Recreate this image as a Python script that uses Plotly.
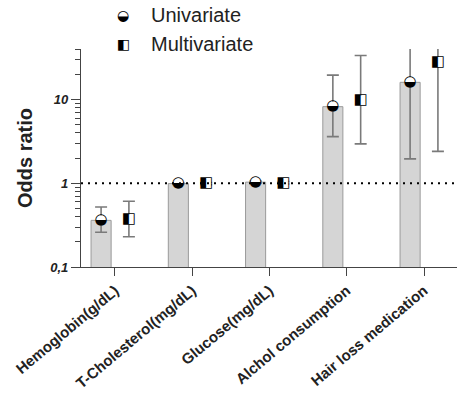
import numpy as np
import plotly.graph_objects as go

categories = ["Hemoglobin(g/dL)", "T-Cholesterol(mg/dL)", "Glucose(mg/dL)",
              "Alchol consumption", "Hair loss medication"]
uni_or = [0.36, 0.99, 1.03, 8.2, 16.0]
uni_lo = [0.26, 0.97, 1.00, 3.6, 1.95]
uni_hi = [0.52, 1.01, 1.06, 19.5, 60.0]
multi_or = [0.37, 0.99, 1.01, 9.7, 28.0]
multi_lo = [0.23, 0.96, 0.98, 2.95, 2.4]
multi_hi = [0.61, 1.02, 1.05, 33.5, 60.0]
ref_value = 1
y_ticks = [0.1, 1, 10]
y_ticktext = ["0,1", "1", "10"]
series_names = ["Univariate", "Multivariate"]
series_glyphs = ["\u25D2", "\u25E7"]

idx = np.arange(len(categories))
off = 0.18
xu = idx - off
xm = idx + off

def errs(v, lo, hi):
    v, lo, hi = map(np.asarray, (v, lo, hi))
    return hi - v, v - lo

ebar = dict(color="#7a7a7a", thickness=1.6, width=6)

fig = go.Figure()
fig.add_trace(go.Bar(x=xu, y=uni_or, width=0.26,
                     marker=dict(color="#d5d5d5", line=dict(color="#9a9a9a", width=1)),
                     hoverinfo="skip", showlegend=False))
up, dn = errs(uni_or, uni_lo, uni_hi)
fig.add_trace(go.Scatter(x=xu, y=uni_or, mode="markers",
                         marker=dict(symbol="circle", size=10, color="white"),
                         error_y=dict(type="data", symmetric=False, array=up, arrayminus=dn, **ebar),
                         showlegend=False))
up, dn = errs(multi_or, multi_lo, multi_hi)
fig.add_trace(go.Scatter(x=xm, y=multi_or, mode="markers",
                         marker=dict(symbol="square", size=10, color="white"),
                         error_y=dict(type="data", symmetric=False, array=up, arrayminus=dn, **ebar),
                         showlegend=False))
# dotted reference line at OR = 1
fig.add_trace(go.Scatter(x=[-0.44, 4.427], y=[ref_value, ref_value], mode="lines",
                         line=dict(color="black", width=2, dash="2px,5px"),
                         hoverinfo="skip", showlegend=False))
fig.add_trace(go.Scatter(x=xu, y=uni_or, mode="text", text=[series_glyphs[0]] * len(xu),
                         textposition="middle center",
                         textfont=dict(family="DejaVu Sans", size=15, color="black"),
                         hoverinfo="skip", showlegend=False))
fig.add_trace(go.Scatter(x=xm, y=multi_or, mode="text", text=[series_glyphs[1]] * len(xm),
                         textposition="middle center",
                         textfont=dict(family="DejaVu Sans", size=15, color="black"),
                         hoverinfo="skip", showlegend=False))

W, H = 457, 399
L, R, T, B = 81, 0, 49, 132
PW, PH = W - L - R, H - T - B

# legend made of annotations (pixel positions -> paper coords)
for i, (g, name) in enumerate(zip(series_glyphs, series_names)):
    yy = 15 + 29 * i
    fig.add_annotation(x=(123 - L) / PW, y=(H - yy - B) / PH, xref="paper", yref="paper", text=g,
                       showarrow=False, xanchor="center", yanchor="middle",
                       font=dict(family="DejaVu Sans", size=14, color="black"))
    fig.add_annotation(x=(149 - L) / PW, y=(H - yy - B) / PH, xref="paper", yref="paper", text=name,
                       showarrow=False, xanchor="left", yanchor="middle",
                       font=dict(family="Liberation Sans", size=20, color="#222"))

fig.update_layout(
    width=W, height=H, margin=dict(l=L, r=R, t=T, b=B, pad=0, autoexpand=False),
    plot_bgcolor="white", paper_bgcolor="white",
    separators=",.",
    font=dict(family="Liberation Sans", color="#222"),
    xaxis=dict(range=[-0.44, 4.427], tickmode="array", tickvals=idx, ticktext=categories,
               tickangle=-40, ticks="outside", ticklen=8, tickcolor="#444", tickwidth=1.2,
               showline=True, linecolor="#444", linewidth=1.2, showgrid=False, zeroline=False,
               automargin=False,
               tickfont=dict(family="Liberation Sans", size=15, weight="bold", color="#222")),
    yaxis=dict(type="log", range=[-1, np.log10(40)], tickmode="array", tickvals=y_ticks,
               ticktext=y_ticktext, ticks="outside", ticklen=9, tickcolor="#444", tickwidth=1.2,
               minor=dict(ticks="outside", ticklen=5, dtick="D1", tickcolor="#444", tickwidth=1),
               showline=True, linecolor="#444", linewidth=1.2, showgrid=False, zeroline=False,
               automargin=False,
               tickfont=dict(family="Liberation Sans", size=13, weight="bold", style="italic", color="#222"),
               title=dict(text="Odds ratio", standoff=12,
                          font=dict(family="Liberation Sans", size=20, weight="bold", color="#222"))),
    showlegend=False,
)

fig.write_html("out.html", config={"displayModeBar": False},
               post_script="document.body.style.margin='0';")
